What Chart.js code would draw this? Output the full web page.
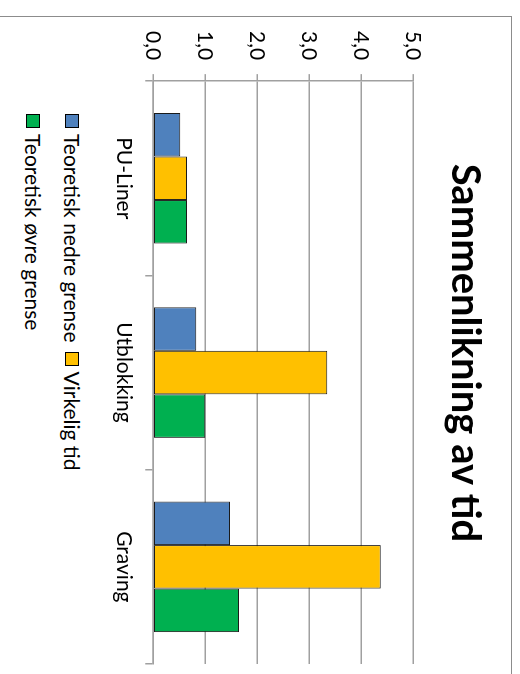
<!DOCTYPE html>
<html>
<head>
<meta charset="utf-8">
<script src="https://cdn.jsdelivr.net/npm/chart.js@4"></script>
<style>
  html, body { margin: 0; padding: 0; background: #fff; overflow: hidden; width: 520px; height: 674px; }
  /* the whole chart is drawn landscape and turned a quarter clockwise */
  #turn {
    position: absolute; left: 0; top: 0; width: 674px; height: 520px;
    transform-origin: top left;
    transform: translate(520px, 0) rotate(90deg);
  }
  #box {
    position: absolute; left: 16px; top: 8px; width: 700px; height: 540px;
    border: 1.5px solid #8c8c8c; box-sizing: border-box;
  }
  #chart { position: absolute; left: 0; top: 0; }
  #title {
    position: absolute; left: 0; top: 20px; width: 672px; text-align: center;
    font: bold 40px/48px Lato, sans-serif; color: #000;
  }
  #legend {
    position: absolute; left: 97px; top: 426px; width: 420px;
    display: flex; flex-wrap: wrap; column-gap: 9px; row-gap: 14px;
    list-style: none; margin: 0; padding: 0;
    font: 21px Lato, sans-serif; color: #000;
  }
  #legend li { display: flex; align-items: center; height: 25px; white-space: nowrap; }
  .swatch { width: 12px; height: 12px; border: 1px solid #000; margin-right: 6px; }
</style>
</head>
<body>
<div id="turn">
  <div id="box">
    <canvas id="chart" width="700" height="409"></canvas>
    <div id="title">Sammenlikning av tid</div>
    <ul id="legend"></ul>
  </div>
</div>
<script>
const categories = ["PU-Liner", "Utblokking", "Graving"];
const seriesNames = ["Teoretisk nedre grense", "Virkelig tid", "Teoretisk øvre grense"];
const lowerValues = [0.52, 0.83, 1.48];
const actualValues = [0.65, 3.35, 4.38];
const upperValues = [0.65, 1.0, 1.65];
const seriesColors = ["#4f81bd", "#ffc000", "#00b050"];
const tickLabels = ["0,0", "1,0", "2,0", "3,0", "4,0", "5,0"];

const FONT = "Lato, sans-serif";
const GRID = "#a0a0a0";

const seriesValues = [lowerValues, actualValues, upperValues];

const chart = new Chart(document.getElementById("chart"), {
  type: "bar",
  data: {
    labels: categories,
    datasets: seriesNames.map((name, i) => ({
      label: name,
      data: seriesValues[i],
      backgroundColor: seriesColors[i],
      borderColor: "#1a1a1a",
      borderWidth: 1,
      borderSkipped: false,
      barPercentage: 1,
      categoryPercentage: 0.672,
    })),
  },
  options: {
    responsive: false,
    animation: false,
    layout: { padding: { left: 0, right: 53, top: 98, bottom: 0 } },
    plugins: {
      legend: { display: false },
      tooltip: { enabled: false },
    },
    scales: {
      x: {
        grid: { offset: true, drawOnChartArea: false, drawTicks: true, tickLength: 8, color: GRID, lineWidth: 1.5 },
        border: { color: GRID, width: 1.5 },
        ticks: { color: "#000", font: { family: FONT, size: 21 }, padding: 9 },
      },
      y: {
        min: 0,
        max: 5,
        grid: { color: GRID, lineWidth: 1.5, tickLength: 7 },
        border: { color: GRID, width: 1.5 },
        ticks: {
          stepSize: 1,
          color: "#000",
          font: { family: FONT, size: 21 },
          padding: 14,
          callback: (value) => tickLabels[value],
        },
      },
    },
  },
});

const legendEl = document.getElementById("legend");
seriesNames.forEach((name, i) => {
  const li = document.createElement("li");
  li.innerHTML = `<span class="swatch" style="background:${seriesColors[i]}"></span>${name}`;
  legendEl.appendChild(li);
});
</script>
</body>
</html>
